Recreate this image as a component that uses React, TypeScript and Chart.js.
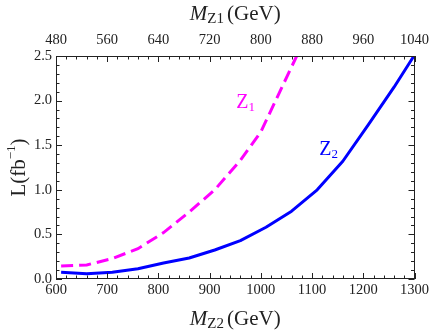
import React, { useEffect, useRef } from "react";
import { Chart, registerables } from "chart.js";

Chart.register(...registerables);

// Z2 curve (bottom axis, M_Z2 in GeV)
const z2Mass = [610, 660, 710, 760, 810, 860, 910, 960, 1010, 1060, 1110, 1160, 1210, 1260, 1300];
const z2Lumi = [0.075, 0.06, 0.075, 0.115, 0.18, 0.235, 0.325, 0.43, 0.58, 0.76, 1.0, 1.32, 1.73, 2.15, 2.51];

// Z1 curve (top axis, M_Z1 in GeV)
const z1Mass = [488, 528, 568, 608, 648, 688, 728, 768, 800, 858];
const z1Lumi = [0.145, 0.157, 0.23, 0.34, 0.52, 0.75, 1.0, 1.33, 1.65, 2.53];

// tick labels
const bottomTicks = [600, 700, 800, 900, 1000, 1100, 1200, 1300];
const topTicks = [480, 560, 640, 720, 800, 880, 960, 1040];
const leftTicks = [0, 0.5, 1.0, 1.5, 2.0, 2.5];

const MAGENTA = "#ff00ff";
const BLUE = "#0000ff";
const SERIF = "'Liberation Serif', 'Times New Roman', serif";
const TEXT = "#222";

type Part = { text: string; size: number; italic?: boolean; dy?: number; gap?: number };

function drawRich(ctx: CanvasRenderingContext2D, parts: Part[], x: number, y: number, align: "center" | "left", color: string) {
  ctx.save();
  ctx.fillStyle = color;
  ctx.textBaseline = "alphabetic";
  ctx.textAlign = "left";
  const widths = parts.map((p) => {
    ctx.font = `${p.italic ? "italic " : ""}${p.size}px ${SERIF}`;
    return ctx.measureText(p.text).width + (p.gap || 0);
  });
  const total = widths.reduce((a, b) => a + b, 0);
  let cx = align === "center" ? x - total / 2 : x;
  parts.forEach((p, i) => {
    ctx.font = `${p.italic ? "italic " : ""}${p.size}px ${SERIF}`;
    ctx.fillText(p.text, cx + (p.gap || 0), y + (p.dy || 0));
    cx += widths[i];
  });
  ctx.restore();
}

const framePlugin = {
  id: "frame",
  afterDatasetsDraw(chart: any) {
    const ctx: CanvasRenderingContext2D = chart.ctx;
    const { left, right, top, bottom } = chart.chartArea;
    const sx = chart.scales.x;
    const sx2 = chart.scales.x2;
    const sy = chart.scales.y;
    ctx.save();
    ctx.strokeStyle = "#222";
    ctx.lineWidth = 1;
    ctx.strokeRect(Math.round(left) + 0.5, Math.round(top) + 0.5, Math.round(right - left) - 1, Math.round(bottom - top) - 1);

    const major = 6;
    const minor = 3.5;
    ctx.beginPath();
    // bottom axis: every 20 GeV, major every 100
    for (let i = 0; i <= 35; i++) {
      const v = 600 + i * 20;
      const px = Math.round(sx.getPixelForValue(v)) + 0.5;
      const len = i % 5 === 0 ? major : minor;
      ctx.moveTo(px, bottom);
      ctx.lineTo(px, bottom - len);
    }
    // top axis: every 16 GeV, major every 80
    for (let i = 0; i <= 35; i++) {
      const v = 480 + i * 16;
      const px = Math.round(sx2.getPixelForValue(v)) + 0.5;
      const len = i % 5 === 0 ? major : minor;
      ctx.moveTo(px, top);
      ctx.lineTo(px, top + len);
    }
    // left & right: every 0.1, major every 0.5
    for (let i = 0; i <= 25; i++) {
      const v = i * 0.1;
      const py = Math.round(sy.getPixelForValue(v)) + 0.5;
      const len = i % 5 === 0 ? major : minor;
      ctx.moveTo(left, py);
      ctx.lineTo(left + len, py);
      ctx.moveTo(right, py);
      ctx.lineTo(right - len, py);
    }
    ctx.stroke();
    ctx.restore();

    // curve labels
    drawRich(ctx, [{ text: "Z", size: 20 }, { text: "1", size: 13, dy: 3 }], sx.getPixelForValue(952), sy.getPixelForValue(1.917), "left", MAGENTA);
    drawRich(ctx, [{ text: "Z", size: 20 }, { text: "2", size: 13, dy: 3 }], sx.getPixelForValue(1114), sy.getPixelForValue(1.39), "left", BLUE);

    const cx = (left + right) / 2;
    // top axis title
    drawRich(ctx, [
      { text: "M", size: 21, italic: true },
      { text: "Z1", size: 15, dy: 3 },
      { text: "(GeV)", size: 21, gap: 3 },
    ], cx, 20, "center", TEXT);
    // bottom axis title
    drawRich(ctx, [
      { text: "M", size: 21, italic: true },
      { text: "Z2", size: 15, dy: 3 },
      { text: "(GeV)", size: 21, gap: 3 },
    ], cx, 325, "center", TEXT);
    // y title (rotated)
    ctx.save();
    ctx.translate(25, (top + bottom) / 2);
    ctx.rotate(-Math.PI / 2);
    drawRich(ctx, [
      { text: "L(fb", size: 21 },
      { text: "\u22121", size: 13, dy: -10 },
      { text: ")", size: 21 },
    ], 0, 0, "center", TEXT);
    ctx.restore();
  },
};

export default function App() {
  const ref = useRef<HTMLCanvasElement>(null);
  useEffect(() => {
    document.body.style.margin = "0";
    const canvas = ref.current!;
    const tickFont = { family: SERIF, size: 14.5 };
    const chart = new Chart(canvas, {
      type: "line",
      data: {
        datasets: [
          {
            label: "Z1",
            data: z1Mass.map((m, i) => ({ x: m, y: z1Lumi[i] })),
            xAxisID: "x2",
            yAxisID: "y",
            borderColor: MAGENTA,
            backgroundColor: MAGENTA,
            borderWidth: 3,
            borderDash: [12, 6],
            borderCapStyle: "butt",
            pointRadius: 0,
            tension: 0,
            fill: false,
          },
          {
            label: "Z2",
            data: z2Mass.map((m, i) => ({ x: m, y: z2Lumi[i] })),
            xAxisID: "x",
            yAxisID: "y",
            borderColor: BLUE,
            backgroundColor: BLUE,
            borderWidth: 3,
            borderJoinStyle: "round",
            pointRadius: 0,
            tension: 0,
            fill: false,
          },
        ],
      },
      options: {
        animation: false,
        responsive: false,
        devicePixelRatio: 1,
        layout: { padding: 0 },
        plugins: { legend: { display: false }, tooltip: { enabled: false } },
        scales: {
          x: {
            type: "linear",
            position: "bottom",
            min: 600,
            max: 1300,
            grid: { display: false, drawTicks: false },
            border: { display: false },
            ticks: { font: tickFont, color: TEXT, padding: 2, maxRotation: 0, autoSkip: false, callback: (v: any) => String(v) },
            afterBuildTicks: (s: any) => { s.ticks = bottomTicks.map((v) => ({ value: v })); },
            afterFit: (s: any) => { s.height = 51; },
          },
          x2: {
            type: "linear",
            position: "top",
            min: 480,
            max: 1040,
            grid: { display: false, drawTicks: false },
            border: { display: false },
            ticks: { font: tickFont, color: TEXT, padding: 7, maxRotation: 0, autoSkip: false, callback: (v: any) => String(v) },
            afterBuildTicks: (s: any) => { s.ticks = topTicks.map((v) => ({ value: v })); },
            afterFit: (s: any) => { s.height = 56; },
          },
          y: {
            type: "linear",
            position: "left",
            min: 0,
            max: 2.5,
            grid: { display: false, drawTicks: false },
            border: { display: false },
            ticks: { font: tickFont, color: TEXT, padding: 4, autoSkip: false, callback: (v: any) => Number(v).toFixed(1) },
            afterBuildTicks: (s: any) => { s.ticks = leftTicks.map((v) => ({ value: v })); },
            afterFit: (s: any) => { s.width = 56; },
          },
          y2: {
            type: "linear",
            position: "right",
            min: 0,
            max: 2.5,
            grid: { display: false, drawTicks: false },
            border: { display: false },
            ticks: { display: false },
            afterFit: (s: any) => { s.width = 17; },
          },
        },
      } as any,
      plugins: [framePlugin],
    });
    return () => chart.destroy();
  }, []);
  return (
    <div style={{ position: "absolute", left: 0, top: 0, width: 436, height: 330, background: "#fff" }}>
      <canvas ref={ref} width={436} height={330} style={{ display: "block" }} />
    </div>
  );
}
